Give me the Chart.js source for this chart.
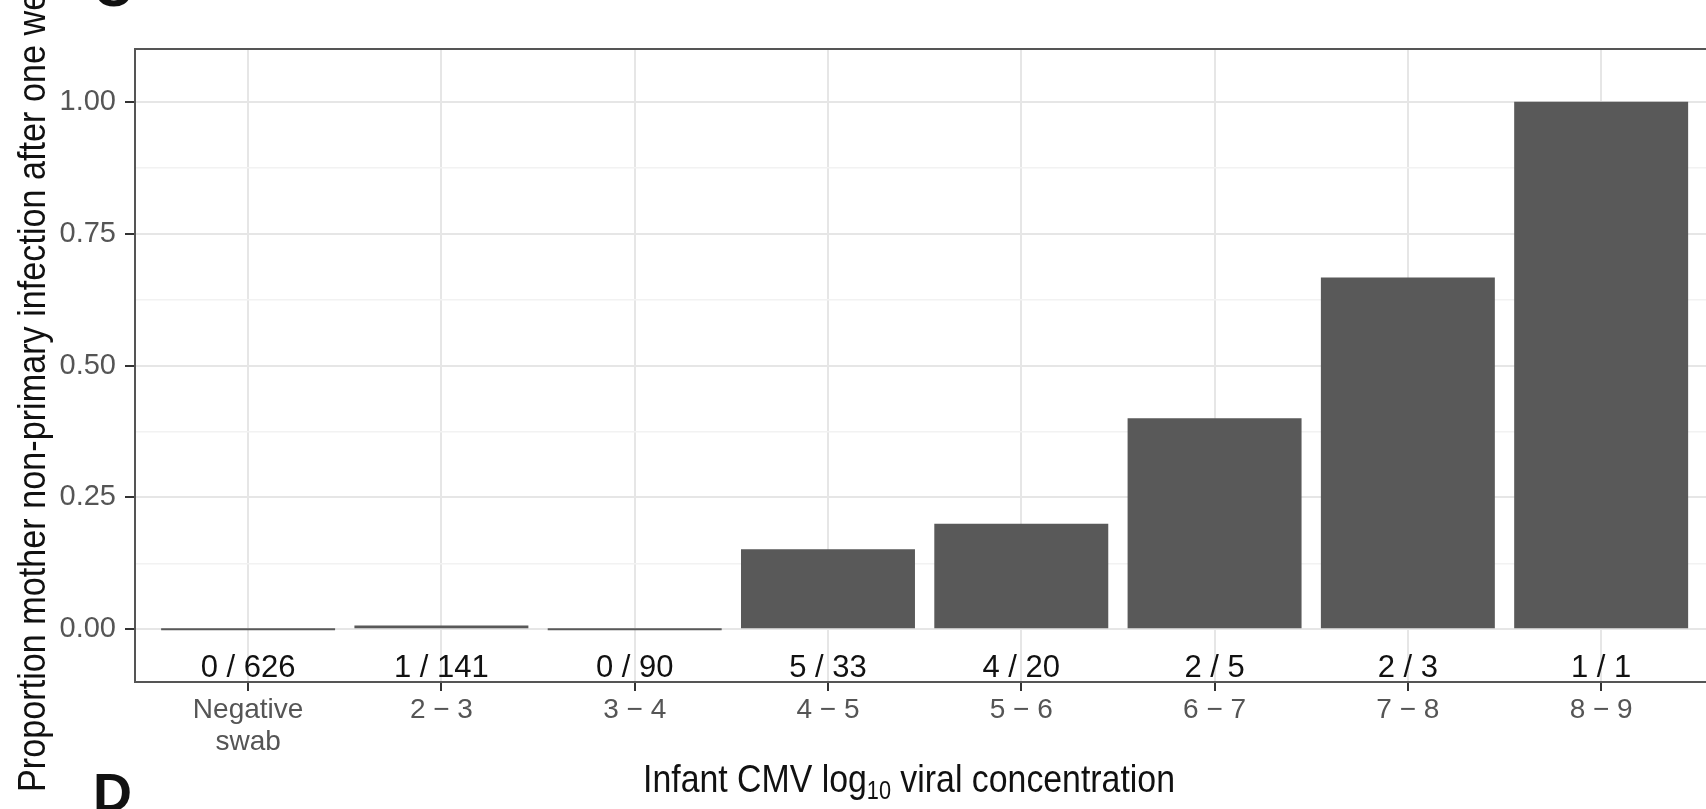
<!DOCTYPE html>
<html>
<head>
<meta charset="utf-8">
<script src="https://cdn.jsdelivr.net/npm/chart.js@4.4.1/dist/chart.umd.min.js"></script>
<style>
  html, body { margin: 0; padding: 0; background: #ffffff; overflow: hidden; }
  #wrap { width: 1730px; height: 809px; }
  canvas { display: block; }
</style>
</head>
<body>
<div id="wrap"><canvas id="chart" width="1730" height="809"></canvas></div>
<script>
// Infant CMV viral load bins
const categories = [['Negative', 'swab'], '2 − 3', '3 − 4', '4 − 5', '5 − 6', '6 − 7', '7 − 8', '8 − 9'];
// mothers with non-primary infection after one week / mothers in each bin
const cases  = [0, 1, 0, 5, 4, 2, 2, 1];
const totals = [626, 141, 90, 33, 20, 5, 3, 1];
// y axis ticks
const yMajorTicks = [0, 0.25, 0.5, 0.75, 1];
const yMinorTicks = [0.125, 0.375, 0.625, 0.875];

const proportions = cases.map((c, i) => c / totals[i]);
const countLabels = cases.map((c, i) => c + ' / ' + totals[i]);

const FONT = "'Liberation Sans', Arial, Helvetica, sans-serif";
const isMajor = v => yMajorTicks.some(t => Math.abs(t - v) < 1e-9);

const overlay = {
  id: 'overlay',
  afterDatasetsDraw(chart) {
    const { ctx, chartArea: a, scales: { x, y } } = chart;
    ctx.save();
    // n / N labels under each bar
    ctx.fillStyle = '#111111';
    ctx.font = '31px ' + FONT;
    ctx.textAlign = 'center';
    ctx.textBaseline = 'alphabetic';
    countLabels.forEach((t, i) => {
      ctx.fillText(t, x.getPixelForValue(i), y.getPixelForValue(-0.09));
    });
    // panel border
    ctx.strokeStyle = '#555555';
    ctx.lineWidth = 2;
    ctx.strokeRect(a.left - 1, a.top, a.right - a.left + 1, a.bottom - a.top);
    ctx.restore();
  },
  afterDraw(chart) {
    const { ctx } = chart;
    ctx.save();
    ctx.fillStyle = '#111111';
    ctx.textBaseline = 'alphabetic';
    ctx.textAlign = 'left';

    // x axis title with subscript
    const parts = [['Infant CMV log', 39, 0], ['10', 25, 7], [' viral concentration', 39, 0]];
    let w = 0;
    parts.forEach(p => { ctx.font = p[1] + 'px ' + FONT; p.push(ctx.measureText(p[0]).width); w += p[3]; });
    const sx = 532 / w;
    ctx.save();
    ctx.translate(643, 792);
    ctx.scale(sx, 1);
    let cx = 0;
    parts.forEach(p => { ctx.font = p[1] + 'px ' + FONT; ctx.fillText(p[0], cx, p[2]); cx += p[3]; });
    ctx.restore();

    // y axis title
    const yt = 'Proportion mother non-primary infection after one week';
    ctx.font = '39px ' + FONT;
    const em = 34.2 / 39;
    ctx.save();
    ctx.translate(45, 792);
    ctx.rotate(-Math.PI / 2);
    ctx.scale(em, 1);
    ctx.fillText(yt, 0, 0);
    ctx.restore();

    // panel letters
    ctx.font = 'bold 54px ' + FONT;
    ctx.fillText('C', 93, 6);
    ctx.fillText('D', 93, 811);
    ctx.restore();
  }
};

new Chart(document.getElementById('chart'), {
  type: 'bar',
  data: {
    datasets: [{
      data: proportions.map((v, i) => ({ x: i, y: v })),
      backgroundColor: '#595959',
      borderWidth: 0,
      barPercentage: 0.9,
      categoryPercentage: 1.0,
      minBarLength: 2
    }]
  },
  options: {
    responsive: false,
    animation: false,
    devicePixelRatio: 1,
    layout: { padding: { left: 0, top: 49, right: 9, bottom: 0 } },
    plugins: { legend: { display: false }, tooltip: { enabled: false } },
    scales: {
      x: {
        type: 'linear',
        min: -0.58,
        max: 7.62,
        offset: false,
        afterBuildTicks: s => { s.ticks = categories.map((_, i) => ({ value: i })); },
        afterFit: s => { s.height = 127; },
        border: { display: false },
        grid: {
          color: '#e6e6e6', lineWidth: 2, offset: false,
          drawTicks: true, tickLength: 9, tickWidth: 2, tickColor: '#333333'
        },
        ticks: {
          autoSkip: false, maxRotation: 0, minRotation: 0,
          padding: 3,
          color: '#555555',
          font: { family: FONT, size: 28, lineHeight: 1.15 },
          callback: v => categories[Math.round(v)]
        }
      },
      y: {
        min: -0.1,
        max: 1.1,
        afterBuildTicks: s => {
          s.ticks = yMajorTicks.concat(yMinorTicks).sort((a, b) => a - b).map(v => ({ value: v }));
        },
        afterFit: s => { s.width = 136; },
        border: { display: false },
        grid: {
          color: c => isMajor(c.tick.value) ? '#e6e6e6' : '#f2f2f2',
          lineWidth: c => isMajor(c.tick.value) ? 2 : 1.5,
          drawTicks: true, tickLength: 11, tickWidth: 2,
          tickColor: c => isMajor(c.tick.value) ? '#333333' : 'rgba(0,0,0,0)'
        },
        ticks: {
          autoSkip: false,
          padding: 9,
          color: '#555555',
          font: { family: FONT, size: 29 },
          callback: v => isMajor(v) ? v.toFixed(2) : ''
        }
      }
    }
  },
  plugins: [overlay]
});
</script>
</body>
</html>
